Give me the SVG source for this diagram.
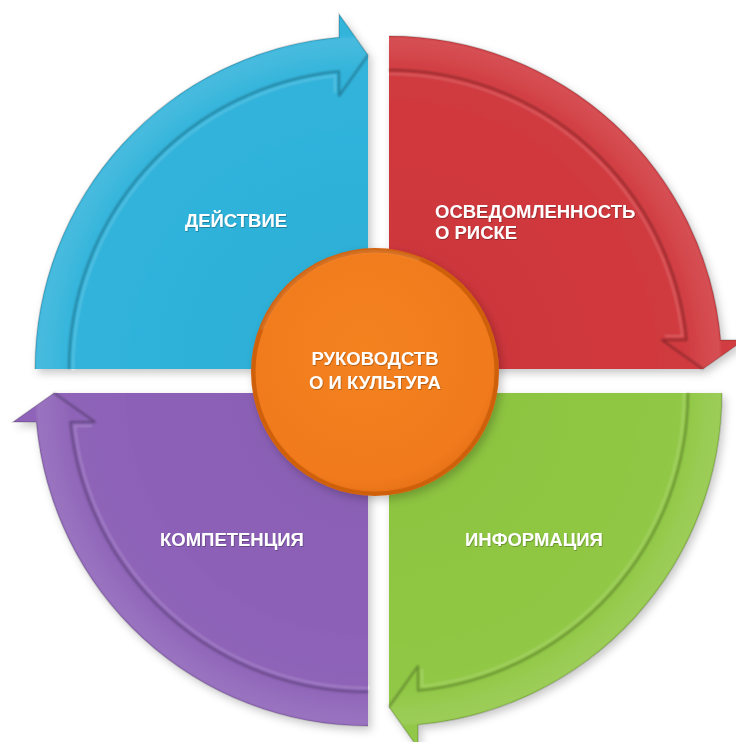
<svg xmlns="http://www.w3.org/2000/svg" xmlns:xlink="http://www.w3.org/1999/xlink" width="736" height="742" viewBox="0 0 736 742">
  <style>
    .lbl { font-family: "Liberation Sans", Arial, sans-serif; font-weight: bold; font-size: 18.5px; fill: #ffffff; }
    .groove { fill: none; stroke: #000; stroke-opacity: 0.28; stroke-width: 2.2; stroke-linejoin: round; }
    .shine { fill: none; stroke: #fff; stroke-opacity: 0.2; stroke-width: 2; stroke-linejoin: round; }
    .rim { fill: none; stroke: #000; stroke-opacity: 0.16; stroke-width: 1.5; }
  </style>
  <defs>
    <!-- one quadrant, drawn with its corner at the origin, opening to the upper left -->
    <path id="body" d="M 0 0 L -333 0 A 333 333 0 0 1 -29 -331.7 L -29 -355 L 0 -314 Z"/>
    <path id="arrow" d="M -333 0 A 333 333 0 0 1 -29 -331.7 L -29 -355 L 0 -314 L -29 -273 L -29 -297.6 A 299 299 0 0 0 -299 0 Z"/>
    <path id="groove" d="M -299 0 A 299 299 0 0 1 -29 -297.6 L -29 -273 L 0 -314"/>
    <path id="shineLine" d="M -295 0 A 295 295 0 0 1 -33 -293.2 L -33 -276"/>
    <path id="outerEdge" d="M -333 0 A 333 333 0 0 1 -29 -331.7 L -29 -355 L 0 -314"/>

    <radialGradient id="bandLight" gradientUnits="userSpaceOnUse" cx="0" cy="0" r="357">
      <stop offset="0.83" stop-color="#fff" stop-opacity="0"/>
      <stop offset="0.89" stop-color="#fff" stop-opacity="0.07"/>
      <stop offset="0.925" stop-color="#fff" stop-opacity="0.1"/>
      <stop offset="0.935" stop-color="#fff" stop-opacity="0"/>
      <stop offset="1" stop-color="#fff" stop-opacity="0"/>
    </radialGradient>
    <radialGradient id="bodyShade" gradientUnits="userSpaceOnUse" cx="0" cy="0" r="333">
      <stop offset="0" stop-color="#000" stop-opacity="0.04"/>
      <stop offset="0.7" stop-color="#fff" stop-opacity="0.02"/>
      <stop offset="1" stop-color="#fff" stop-opacity="0.04"/>
    </radialGradient>
    <radialGradient id="discFill" cx="0.45" cy="0.4" r="0.65">
      <stop offset="0" stop-color="#f4821f"/>
      <stop offset="0.85" stop-color="#f07a1c"/>
      <stop offset="1" stop-color="#e46e15"/>
    </radialGradient>

    <filter id="drop" x="-10%" y="-10%" width="125%" height="125%">
      <feDropShadow dx="3" dy="4" stdDeviation="4" flood-color="#000" flood-opacity="0.22"/>
    </filter>
    <filter id="soft" x="-5%" y="-5%" width="110%" height="110%">
      <feGaussianBlur stdDeviation="0.8"/>
    </filter>
    <filter id="txt" x="-5%" y="-20%" width="110%" height="140%">
      <feDropShadow dx="0.6" dy="0.8" stdDeviation="0.6" flood-color="#000" flood-opacity="0.35"/>
    </filter>
  </defs>

  <!-- quadrant segments with curved arrows -->
  <g id="connectors">
    <g id="seg-action" filter="url(#drop)">
      <g transform="translate(368 369)">
        <use xlink:href="#body" fill="#2bb1da"/>
        <use xlink:href="#body" fill="url(#bodyShade)"/>
        <use xlink:href="#arrow" fill="url(#bandLight)"/>
        <use xlink:href="#groove" class="groove" filter="url(#soft)"/>
        <use xlink:href="#shineLine" class="shine" filter="url(#soft)"/>
        <use xlink:href="#outerEdge" class="rim"/>
      </g>
    </g>
    <g id="seg-awareness" filter="url(#drop)">
      <g transform="translate(389 369) rotate(90)">
        <use xlink:href="#body" fill="#cf3439"/>
        <use xlink:href="#body" fill="url(#bodyShade)"/>
        <use xlink:href="#arrow" fill="url(#bandLight)"/>
        <use xlink:href="#groove" class="groove" filter="url(#soft)"/>
        <use xlink:href="#shineLine" class="shine" filter="url(#soft)"/>
        <use xlink:href="#outerEdge" class="rim"/>
      </g>
    </g>
    <g id="seg-information" filter="url(#drop)">
      <g transform="translate(389 393) rotate(180)">
        <use xlink:href="#body" fill="#8dc63f"/>
        <use xlink:href="#body" fill="url(#bodyShade)"/>
        <use xlink:href="#arrow" fill="url(#bandLight)"/>
        <use xlink:href="#groove" class="groove" filter="url(#soft)"/>
        <use xlink:href="#shineLine" class="shine" filter="url(#soft)"/>
        <use xlink:href="#outerEdge" class="rim"/>
      </g>
    </g>
    <g id="seg-competence" filter="url(#drop)">
      <g transform="translate(368 393) rotate(270)">
        <use xlink:href="#body" fill="#8a5eb6"/>
        <use xlink:href="#body" fill="url(#bodyShade)"/>
        <use xlink:href="#arrow" fill="url(#bandLight)"/>
        <use xlink:href="#groove" class="groove" filter="url(#soft)"/>
        <use xlink:href="#shineLine" class="shine" filter="url(#soft)"/>
        <use xlink:href="#outerEdge" class="rim"/>
      </g>
    </g>
  </g>

  <!-- labels of the four segments -->
  <g id="node-action" filter="url(#txt)">
    <text class="lbl" x="185" y="227">ДЕЙСТВИЕ</text>
  </g>
  <g id="node-awareness" filter="url(#txt)">
    <text class="lbl" x="435" y="218">ОСВЕДОМЛЕННОСТЬ</text>
    <text class="lbl" x="435" y="239">О РИСКЕ</text>
  </g>
  <g id="node-information" filter="url(#txt)">
    <text class="lbl" x="465" y="546">ИНФОРМАЦИЯ</text>
  </g>
  <g id="node-competence" filter="url(#txt)">
    <text class="lbl" x="160" y="546">КОМПЕТЕНЦИЯ</text>
  </g>

  <!-- central disc -->
  <g id="node-leadership">
    <g filter="url(#drop)">
      <circle cx="375" cy="372" r="124" fill="#d4630f"/>
    </g>
    <circle cx="375" cy="372" r="119.5" fill="url(#discFill)"/>
    <circle cx="375" cy="372" r="121.5" fill="none" stroke="#b8520a" stroke-opacity="0.35" stroke-width="2" filter="url(#soft)"/>
    <path d="M 262 330 A 120 120 0 0 1 420 260" fill="none" stroke="#fff" stroke-opacity="0.18" stroke-width="2" filter="url(#soft)"/>
    <g filter="url(#txt)">
      <text class="lbl" x="375" y="365" text-anchor="middle">РУКОВОДСТВ</text>
      <text class="lbl" x="375" y="389" text-anchor="middle">О И КУЛЬТУРА</text>
    </g>
  </g>
</svg>
